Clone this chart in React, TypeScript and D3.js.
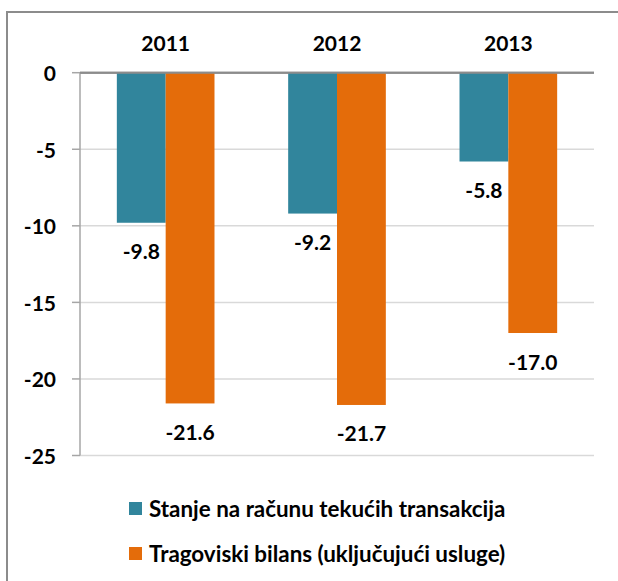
import * as d3 from 'd3';

const years = ['2011', '2012', '2013'];
const currentAccount = [-9.8, -9.2, -5.8];
const tradeBalance = [-21.6, -21.7, -17.0];
const yTicks = [0, -5, -10, -15, -20, -25];
const seriesNames = ['Stanje na računu tekućih transakcija', 'Tragoviski bilans (uključujući usluge)'];
const seriesColors = ['#31859C', '#E46C0A'];

const width = 618;
const height = 581;
const font = 'Lato, "Open Sans", sans-serif';

export default function App() {
  const x = d3.scaleBand<string>()
    .domain(years)
    .range([80, 594])
    .paddingInner(0.43)
    .paddingOuter(0.215);

  const sub = d3.scaleBand<number>()
    .domain([0, 1])
    .range([0, x.bandwidth()]);

  const y = d3.scaleLinear()
    .domain([-25, 0])
    .range([455.5, 72.7]);

  const series = [currentAccount, tradeBalance];

  return (
    <svg width={width} height={height}
      style={{ position: 'absolute', left: 0, top: 0, display: 'block', background: '#fff' }}>
      {/* outer frame */}
      <rect x={7} y={12} width={700} height={700} fill="none" stroke="#8c8c8c" strokeWidth={2} />

      {/* gridlines and y labels */}
      {yTicks.map(t => (
        <g key={t}>
          <line x1={80} x2={594} y1={y(t)} y2={y(t)}
            stroke={t === 0 ? '#8c8c8c' : '#d9d9d9'} strokeWidth={t === 0 ? 2 : 1.5} />
          <line x1={72} x2={80} y1={y(t)} y2={y(t)} stroke="#a6a6a6" strokeWidth={1.5} />
          <text x={56} y={y(t)} textAnchor="end" dominantBaseline="central"
            fontFamily={font} fontWeight="bold" fontSize={21} fill="#000">{t}</text>
        </g>
      ))}

      {/* bars */}
      {series.map((vals, si) => vals.map((v, i) => {
        const bx = (x(years[i]) ?? 0) + (sub(si) ?? 0);
        return (
          <rect key={`${si}-${i}`} x={bx} y={y(0)} width={sub.bandwidth()} height={y(v) - y(0)}
            fill={seriesColors[si]} />
        );
      }))}

      {/* axis lines */}
      <line x1={80} x2={80} y1={y(0)} y2={y(-25)} stroke="#a6a6a6" strokeWidth={1.5} />
      <line x1={80} x2={594} y1={y(0)} y2={y(0)} stroke="#8c8c8c" strokeWidth={2} />

      {/* data labels */}
      {series.map((vals, si) => vals.map((v, i) => {
        const cx = (x(years[i]) ?? 0) + (sub(si) ?? 0) + sub.bandwidth() / 2;
        return (
          <text key={`l-${si}-${i}`} x={cx} y={y(v) + 28} textAnchor="middle" dominantBaseline="central"
            fontFamily={font} fontWeight="bold" fontSize={21} fill="#000">{v.toFixed(1)}</text>
        );
      }))}

      {/* category labels */}
      {years.map(yr => (
        <text key={yr} x={(x(yr) ?? 0) + x.bandwidth() / 2} y={42} textAnchor="middle" dominantBaseline="central"
          fontFamily={font} fontWeight="bold" fontSize={21} fill="#000">{yr}</text>
      ))}

      {/* legend */}
      {seriesNames.map((name, i) => (
        <g key={name} transform={`translate(129, ${502 + i * 45})`}>
          <rect width={13} height={13} fill={seriesColors[i]} />
          <text x={20} y={6.5} dominantBaseline="central" fontFamily={font} fontWeight="bold"
            fontSize={22.4} fill="#000">{name}</text>
        </g>
      ))}
    </svg>
  );
}
